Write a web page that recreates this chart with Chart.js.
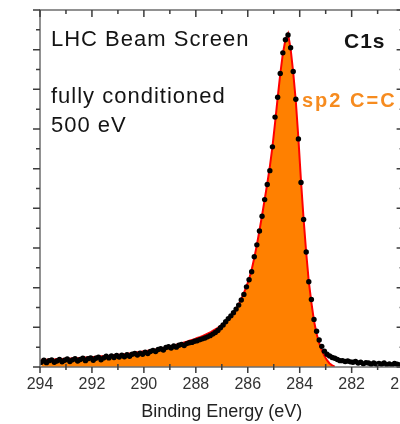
<!DOCTYPE html>
<html>
<head>
<meta charset="utf-8">
<script src="https://cdn.jsdelivr.net/npm/chart.js@4/dist/chart.umd.min.js"></script>
<style>
  html, body { margin: 0; padding: 0; background: #fff; overflow: hidden; }
  #wrap { width: 440px; height: 424px; }
</style>
</head>
<body>
<div id="wrap"><canvas id="xps" width="440" height="424"></canvas></div>
<script>
// measured C1s points (binding energy in eV, intensity in axis units)
const energy = [
  293.95, 293.85, 293.75, 293.65, 293.55, 293.45, 293.35, 293.25, 293.15, 293.05,
  292.95, 292.85, 292.75, 292.65, 292.55, 292.45, 292.35, 292.25, 292.15, 292.05,
  291.95, 291.85, 291.75, 291.65, 291.55, 291.45, 291.35, 291.25, 291.15, 291.05,
  290.95, 290.85, 290.75, 290.65, 290.55, 290.45, 290.35, 290.25, 290.15, 290.05,
  289.95, 289.85, 289.75, 289.65, 289.55, 289.45, 289.35, 289.25, 289.15, 289.05,
  288.95, 288.85, 288.75, 288.65, 288.55, 288.45, 288.35, 288.25, 288.15, 288.05,
  287.95, 287.85, 287.75, 287.65, 287.55, 287.45, 287.35, 287.25, 287.15, 287.05,
  286.95, 286.85, 286.75, 286.65, 286.55, 286.45, 286.35, 286.25, 286.15, 286.05,
  285.95, 285.85, 285.75, 285.65, 285.55, 285.45, 285.35, 285.25, 285.15, 285.05,
  284.95, 284.85, 284.75, 284.65, 284.55, 284.45, 284.35, 284.25, 284.15, 284.05,
  283.95, 283.85, 283.75, 283.65, 283.55, 283.45, 283.35, 283.25, 283.15, 283.05,
  282.95, 282.85, 282.75, 282.65, 282.55, 282.45, 282.35, 282.25, 282.15, 282.05,
  281.95, 281.85, 281.75, 281.65, 281.55, 281.45, 281.35, 281.25, 281.15, 281.05,
  280.95, 280.85, 280.75, 280.65, 280.55, 280.45, 280.35, 280.25, 280.15, 280.05
];
const counts = [
  0.12, 0.17, 0.11, 0.16, 0.18, 0.12, 0.15, 0.19, 0.13, 0.17,
  0.20, 0.14, 0.18, 0.21, 0.15, 0.19, 0.22, 0.16, 0.21, 0.23,
  0.17, 0.22, 0.25, 0.18, 0.23, 0.27, 0.23, 0.28, 0.24, 0.29,
  0.25, 0.30, 0.26, 0.31, 0.27, 0.32, 0.34, 0.30, 0.35, 0.32,
  0.37, 0.34, 0.39, 0.42, 0.39, 0.44, 0.46, 0.43, 0.49, 0.51,
  0.48, 0.53, 0.50, 0.55, 0.57, 0.54, 0.59, 0.61, 0.62, 0.65,
  0.66, 0.69, 0.71, 0.73, 0.76, 0.79, 0.83, 0.87, 0.92, 0.99,
  1.06, 1.14, 1.22, 1.29, 1.37, 1.46, 1.56, 1.69, 1.83, 2.02,
  2.20, 2.40, 2.78, 3.08, 3.43, 3.80, 4.22, 4.60, 4.95, 5.55,
  6.30, 6.80, 7.40, 7.92, 8.25, 8.37, 8.05, 7.45, 6.75, 5.75,
  4.65, 3.72, 2.90, 2.15, 1.70, 1.20, 0.90, 0.68, 0.52, 0.40,
  0.32, 0.28, 0.24, 0.22, 0.19, 0.16, 0.16, 0.14, 0.15, 0.13,
  0.12, 0.14, 0.10, 0.12, 0.08, 0.11, 0.10, 0.07, 0.10, 0.07,
  0.09, 0.07, 0.10, 0.06, 0.08, 0.05, 0.09, 0.07, 0.05, 0.08
];

// sp2 C=C fit component, same energies, ends where it reaches zero
const fitEnergy = energy.slice(0, 114);
const fitValues = [
  0.18, 0.18, 0.18, 0.19, 0.19, 0.19, 0.20, 0.20, 0.20, 0.21,
  0.21, 0.21, 0.22, 0.22, 0.22, 0.23, 0.23, 0.24, 0.24, 0.25,
  0.25, 0.26, 0.26, 0.27, 0.27, 0.28, 0.28, 0.29, 0.30, 0.30,
  0.31, 0.32, 0.32, 0.33, 0.34, 0.35, 0.36, 0.37, 0.38, 0.39,
  0.40, 0.41, 0.42, 0.43, 0.44, 0.46, 0.47, 0.48, 0.50, 0.51,
  0.53, 0.54, 0.56, 0.58, 0.60, 0.62, 0.64, 0.66, 0.68, 0.70,
  0.73, 0.75, 0.78, 0.81, 0.84, 0.87, 0.91, 0.95, 0.99, 1.04,
  1.09, 1.15, 1.22, 1.29, 1.37, 1.47, 1.58, 1.71, 1.86, 2.03,
  2.22, 2.45, 2.75, 3.08, 3.44, 3.82, 4.22, 4.62, 5.05, 5.55,
  6.15, 6.78, 7.38, 7.90, 8.25, 8.40, 8.02, 7.42, 6.70, 5.75,
  4.68, 3.72, 2.88, 2.15, 1.62, 1.16, 0.84, 0.60, 0.42, 0.28,
  0.17, 0.09, 0.04, 0.01
];

const xTicks = [294, 292, 290, 288, 286, 284, 282, 280];

// box round the plot with Origin-style tick marks
const frame = {
  id: 'frame',
  afterDatasetsDraw(chart) {
    const { ctx, chartArea: a, scales: { x, y } } = chart;
    ctx.save();
    ctx.strokeStyle = '#6e6e6e';
    ctx.lineWidth = 1.5;
    ctx.strokeRect(a.left, a.top, a.right - a.left, a.bottom - a.top);
    ctx.strokeStyle = '#3c3c3c';
    ctx.beginPath();
    for (let e = 280; e <= 294; e++) {
      const px = x.getPixelForValue(e);
      const major = e % 2 === 0;
      if (major) { ctx.moveTo(px, a.bottom); ctx.lineTo(px, a.bottom + 6); }
      else { ctx.moveTo(px, a.bottom - 3); ctx.lineTo(px, a.bottom + 3); }
      ctx.moveTo(px, a.top);
      ctx.lineTo(px, a.top + (major ? 7 : 4));
    }
    for (let v = 0; v <= 9; v += 0.5) {
      const py = y.getPixelForValue(v);
      const len = v % 1 === 0 ? 7 : 4;
      ctx.moveTo(a.left, py); ctx.lineTo(a.left - len, py);
      ctx.moveTo(a.right, py); ctx.lineTo(a.right - len, py);
    }
    ctx.stroke();
    ctx.restore();
  }
};

// labels written inside the plot
const notes = {
  id: 'notes',
  afterDraw(chart) {
    const ctx = chart.ctx;
    ctx.save();
    ctx.textBaseline = 'alphabetic';
    ctx.fillStyle = '#141414';
    ctx.letterSpacing = '1px';
    ctx.font = '22px Arial, "Liberation Sans", sans-serif';
    ctx.fillText('LHC Beam Screen', 51, 46);
    ctx.fillText('fully conditioned', 51, 103);
    ctx.fillText('500 eV', 51, 131.5);
    ctx.font = 'bold 21px Arial, "Liberation Sans", sans-serif';
    ctx.fillText('C1s', 344, 48);
    ctx.fillStyle = '#f68b1f';
    ctx.font = 'bold 20px Arial, "Liberation Sans", sans-serif';
    ctx.letterSpacing = '2px';
    ctx.fillText('sp2 C=C', 302, 107);
    ctx.restore();
  }
};

Chart.defaults.font.family = 'Arial, "Liberation Sans", sans-serif';

new Chart(document.getElementById('xps'), {
  type: 'scatter',
  data: {
    datasets: [
      {
        label: 'data',
        data: energy.map((e, i) => ({ x: e, y: counts[i] })),
        pointRadius: 2.7,
        pointBorderWidth: 0,
        pointBackgroundColor: '#000',
        showLine: false
      },
      {
        type: 'line',
        label: 'sp2 C=C',
        data: fitEnergy.map((e, i) => ({ x: e, y: fitValues[i] })),
        borderColor: '#ff0000',
        borderWidth: 2,
        backgroundColor: '#ff8000',
        fill: 'origin',
        pointRadius: 0,
        tension: 0
      }
    ]
  },
  options: {
    responsive: false,
    animation: false,
    layout: { padding: { left: 40, top: 10, right: 36.4, bottom: 1.5 } },
    plugins: { legend: { display: false }, tooltip: { enabled: false } },
    scales: {
      x: {
        type: 'linear',
        reverse: true,
        min: 280,
        max: 294,
        grid: { display: false, drawTicks: false },
        border: { display: false },
        afterBuildTicks: (axis) => { axis.ticks = xTicks.map(v => ({ value: v })); },
        afterFit: (axis) => { axis.height = 55.5; },
        ticks: { padding: 8, color: '#333', font: { size: 16 } },
        title: {
          display: true,
          text: 'Binding Energy (eV)',
          color: '#222',
          font: { size: 18 },
          padding: { top: 6.7, bottom: 0 }
        }
      },
      y: { display: false, min: 0, max: 9 }
    }
  },
  plugins: [frame, notes]
});
</script>
</body>
</html>
